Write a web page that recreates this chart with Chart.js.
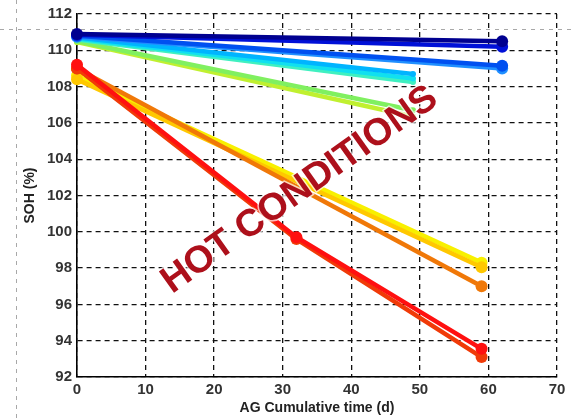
<!DOCTYPE html>
<html>
<head>
<meta charset="UTF-8">
<script src="https://cdn.jsdelivr.net/npm/chart.js"></script>
<style>
  html, body { margin: 0; padding: 0; background: #fff; }
  #wrap { width: 576px; height: 420px; }
</style>
</head>
<body>
<div id="wrap"><canvas id="soh"></canvas></div>
<script>
// Days at which each group of cells was measured
const daysLong = [0, 62];
const daysShort = [0, 49];
const daysHot = [0, 59];
const daysHotMid = [0, 32, 59];

// SOH (%) values, cool cells
const sohNavy = [110.9, 110.5];
const sohBlue = [110.85, 110.2];
const sohMidBlue = [110.8, 109.15];
const sohSkyBlue = [110.75, 109.0];
const sohAzure = [110.7, 108.7];
const sohCyan = [110.65, 108.45];
const sohAqua = [110.6, 108.25];
const sohGreen = [110.5, 106.7];
const sohLime = [110.45, 106.35];

// SOH (%) values, hot cells
const sohRed = [109.2, 99.7, 93.55];
const sohRedOrange = [109.0, 99.6, 93.1];
const sohOrange = [109.0, 97.0];
const sohGold = [108.4, 98.05];
const sohYellow = [108.6, 98.3];

const xTicks = [0, 10, 20, 30, 40, 50, 60, 70];
const yTicks = [92, 94, 96, 98, 100, 102, 104, 106, 108, 110, 112];

function pts(xs, ys) {
  return xs.map((x, i) => ({ x: x, y: ys[i] }));
}

function series(label, xs, ys, color, radius) {
  return {
    label: label,
    data: pts(xs, ys),
    borderColor: color,
    backgroundColor: color,
    borderWidth: 4.5,
    pointRadius: radius,
    pointHoverRadius: radius,
    pointBorderWidth: 0,
    clip: false
  };
}

const datasets = [
  series('navy', daysLong, sohNavy, '#000090', 6),
  series('blue', daysLong, sohBlue, '#0010d8', 6),
  series('mid blue', daysLong, sohMidBlue, '#0050f0', 6),
  series('sky blue', daysLong, sohSkyBlue, '#1f8fff', 6),
  series('azure', daysShort, sohAzure, '#00b4ff', 3),
  series('cyan', daysShort, sohCyan, '#10e0f0', 3),
  series('aqua', daysShort, sohAqua, '#40f0c0', 3),
  series('green', daysShort, sohGreen, '#80f060', 3),
  series('lime', daysShort, sohLime, '#c0f030', 3),
  series('red', daysHotMid, sohRed, '#ff1010', 6),
  series('red orange', daysHotMid, sohRedOrange, '#f03a08', 6),
  series('orange', daysHot, sohOrange, '#f07808', 6),
  series('gold', daysHot, sohGold, '#ffc800', 6),
  series('yellow', daysHot, sohYellow, '#f8f000', 6)
];

// faint dashed frame lines left over from the slide
const backdrop = {
  id: 'backdrop',
  beforeDraw(chart) {
    const ctx = chart.ctx;
    ctx.save();
    ctx.strokeStyle = '#a8a8a8';
    ctx.lineWidth = 1;
    ctx.setLineDash([4, 5]);
    ctx.beginPath();
    ctx.moveTo(16.5, 0);
    ctx.lineTo(16.5, 420);
    ctx.moveTo(0, 29.5);
    ctx.lineTo(576, 29.5);
    ctx.stroke();
    ctx.restore();
  }
};

const stamp = {
  id: 'stamp',
  afterDatasetsDraw(chart) {
    const ctx = chart.ctx;
    const xs = chart.scales.x, ys = chart.scales.y;
    ctx.save();
    ctx.translate(xs.getPixelForValue(32.5), ys.getPixelForValue(102.3));
    ctx.rotate(-35.5 * Math.PI / 180);
    ctx.font = 'bold 38px "Liberation Sans", Arial, sans-serif';
    ctx.textAlign = 'center';
    ctx.textBaseline = 'middle';
    ctx.lineWidth = 3;
    ctx.strokeStyle = 'rgba(255,255,255,0.7)';
    ctx.strokeText('HOT CONDITIONS', 0, 0);
    ctx.fillStyle = '#ad101b';
    ctx.fillText('HOT CONDITIONS', 0, 0);
    ctx.restore();
  }
};

new Chart(document.getElementById('soh'), {
  type: 'line',
  data: { datasets: datasets },
  options: {
    responsive: true,
    maintainAspectRatio: false,
    animation: false,
    events: [],
    layout: { padding: { left: 22, right: 19, top: 12, bottom: 0 } },
    plugins: {
      legend: { display: false },
      tooltip: { enabled: false }
    },
    scales: {
      x: {
        type: 'linear',
        min: 0,
        max: 70,
        afterBuildTicks: s => { s.ticks = xTicks.map(v => ({ value: v })); },
        afterFit: s => { s.height = 43; },
        grid: { color: '#111', lineWidth: 1.3, drawTicks: false },
        border: { display: true, color: '#000', width: 1.6, dash: [5, 4] },
        ticks: {
          padding: 4,
          color: '#333',
          font: { family: 'Liberation Sans', size: 15, weight: 'bold' }
        },
        title: {
          display: true,
          text: 'AG Cumulative time (d)',
          color: '#222',
          padding: { top: 0, bottom: 3 },
          font: { family: 'Liberation Sans', size: 14, weight: 'bold' }
        }
      },
      y: {
        type: 'linear',
        min: 92,
        max: 112,
        afterBuildTicks: s => { s.ticks = yTicks.map(v => ({ value: v })); },
        afterFit: s => { s.width = 55; },
        grid: { color: '#111', lineWidth: 1.3, drawTicks: false },
        border: { display: true, color: '#000', width: 1.6, dash: [5, 4] },
        ticks: {
          padding: 5,
          color: '#333',
          font: { family: 'Liberation Sans', size: 15, weight: 'bold' }
        },
        title: {
          display: true,
          text: 'SOH (%)',
          color: '#222',
          padding: { top: 0, bottom: 0 },
          font: { family: 'Liberation Sans', size: 14, weight: 'bold' }
        }
      }
    }
  },
  plugins: [backdrop, stamp]
});
</script>
</body>
</html>
